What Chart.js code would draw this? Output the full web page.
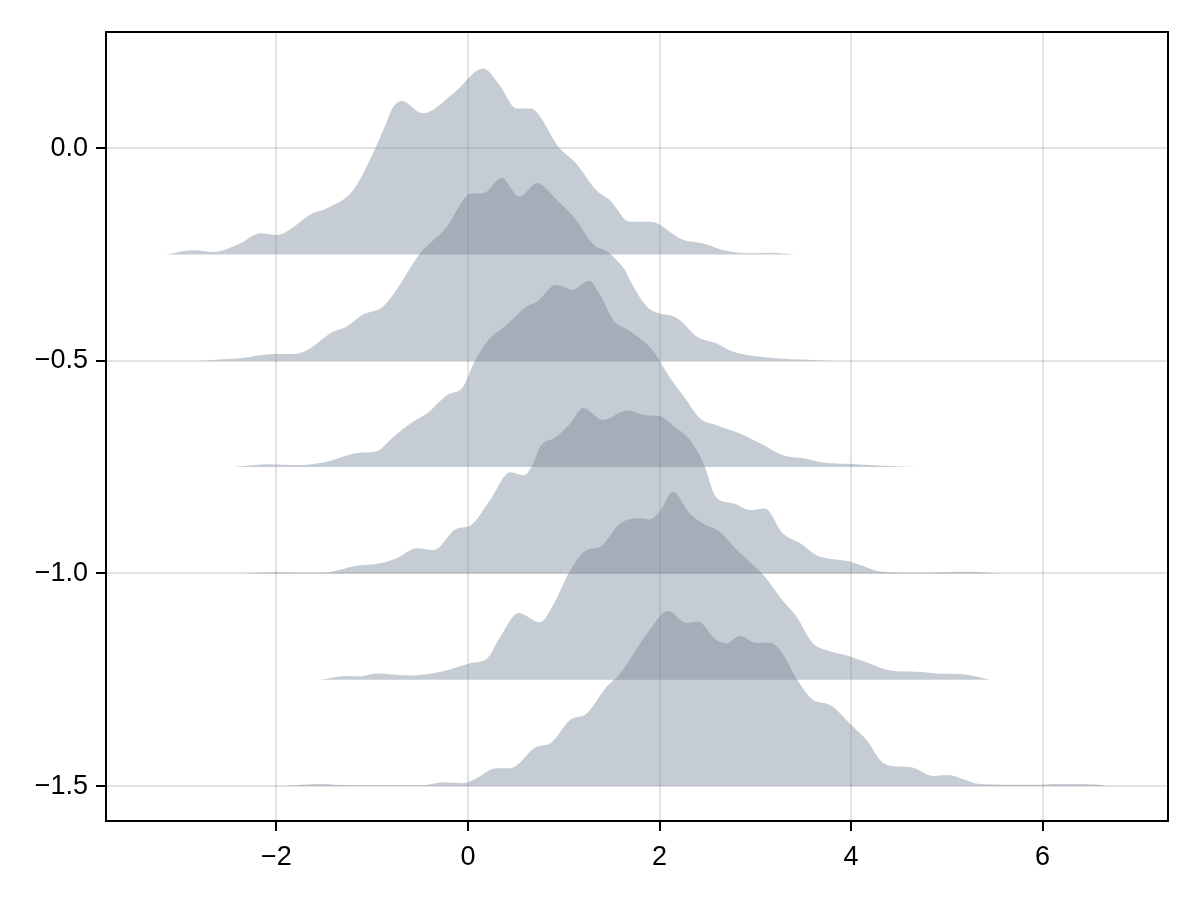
<!DOCTYPE html>
<html>
<head>
<meta charset="UTF-8">
<script src="https://cdn.jsdelivr.net/npm/chart.js"></script>
<style>
  body { margin: 0; background: #fff; }
  #wrap { width: 1200px; height: 900px; }
</style>
</head>
<body>
<div id="wrap"><canvas id="chart" width="1200" height="900"></canvas></div>
<script>
// ridge baselines (one per density curve, top to bottom)
const baselines = [-0.25, -0.5, -0.75, -1.0, -1.25, -1.5];

// x positions and density heights above the baseline
const ridge1X = [-3.15, -2.87, -2.66, -2.38, -2.17, -2.00, -1.62, -1.48, -1.20, -0.96, -0.87, -0.78, -0.69, -0.47, -0.15, 0.16, 0.33, 0.51, 0.65, 0.96, 1.13, 1.34, 1.48, 1.69, 1.90, 2.25, 2.46, 2.67, 2.95, 3.15, 3.43];
const ridge1H = [0, 0.010, 0.006, 0.026, 0.050, 0.046, 0.097, 0.108, 0.151, 0.253, 0.300, 0.347, 0.361, 0.332, 0.379, 0.437, 0.398, 0.343, 0.343, 0.249, 0.214, 0.151, 0.128, 0.077, 0.077, 0.034, 0.026, 0.010, 0.003, 0.004, 0];

const ridge2X = [-2.80, -2.59, -2.38, -2.03, -1.82, -1.68, -1.41, -1.27, -1.10, -0.89, -0.75, -0.50, -0.22, -0.05, 0.02, 0.16, 0.35, 0.54, 0.72, 0.92, 1.13, 1.30, 1.48, 1.55, 1.64, 1.69, 1.87, 2.00, 2.11, 2.21, 2.39, 2.59, 2.77, 3.12, 3.61, 3.81];
const ridge2H = [0, 0.003, 0.006, 0.016, 0.016, 0.025, 0.068, 0.080, 0.108, 0.127, 0.166, 0.253, 0.315, 0.378, 0.393, 0.394, 0.430, 0.386, 0.418, 0.380, 0.331, 0.276, 0.253, 0.237, 0.213, 0.190, 0.127, 0.111, 0.107, 0.096, 0.057, 0.041, 0.021, 0.008, 0.002, 0];

const ridge3X = [-2.45, -2.07, -1.79, -1.51, -1.13, -0.96, -0.78, -0.57, -0.43, -0.22, -0.05, 0.06, 0.20, 0.40, 0.61, 0.72, 0.92, 1.10, 1.26, 1.38, 1.52, 1.69, 1.94, 2.00, 2.14, 2.28, 2.42, 2.59, 2.84, 3.05, 3.29, 3.50, 3.71, 4.06, 4.34, 4.68];
const ridge3H = [0, 0.007, 0.005, 0.011, 0.034, 0.037, 0.071, 0.107, 0.126, 0.169, 0.189, 0.244, 0.295, 0.334, 0.377, 0.389, 0.428, 0.417, 0.438, 0.405, 0.345, 0.320, 0.272, 0.250, 0.200, 0.158, 0.115, 0.099, 0.079, 0.056, 0.028, 0.021, 0.011, 0.007, 0.003, 0];

const ridge4X = [-2.38, -2.03, -1.51, -1.16, -0.92, -0.74, -0.54, -0.36, -0.12, 0.02, 0.23, 0.44, 0.58, 0.68, 0.75, 0.92, 1.07, 1.20, 1.41, 1.66, 1.86, 2.00, 2.14, 2.32, 2.46, 2.59, 2.77, 2.95, 3.10, 3.29, 3.47, 3.64, 3.99, 4.33, 4.68, 5.24, 5.56];
const ridge4H = [0, 0.003, 0.002, 0.018, 0.024, 0.036, 0.059, 0.055, 0.105, 0.112, 0.172, 0.238, 0.231, 0.258, 0.297, 0.321, 0.353, 0.389, 0.361, 0.383, 0.372, 0.370, 0.348, 0.313, 0.259, 0.180, 0.165, 0.149, 0.153, 0.094, 0.071, 0.043, 0.028, 0.004, 0.002, 0.004, 0];

const ridge5X = [-1.55, -1.27, -1.13, -0.96, -0.61, -0.26, 0.02, 0.20, 0.33, 0.53, 0.75, 0.89, 1.07, 1.24, 1.38, 1.59, 1.80, 1.90, 2.00, 2.14, 2.32, 2.46, 2.63, 2.81, 2.95, 3.09, 3.29, 3.43, 3.60, 3.74, 3.99, 4.16, 4.41, 4.68, 4.89, 5.17, 5.45];
const ridge5H = [0, 0.009, 0.008, 0.015, 0.010, 0.020, 0.039, 0.050, 0.098, 0.157, 0.135, 0.176, 0.258, 0.305, 0.313, 0.368, 0.380, 0.377, 0.395, 0.442, 0.390, 0.367, 0.348, 0.305, 0.276, 0.245, 0.185, 0.149, 0.086, 0.070, 0.055, 0.041, 0.022, 0.019, 0.015, 0.013, 0];

const ridge6X = [-1.96, -1.51, -1.27, -0.47, -0.26, -0.05, 0.06, 0.30, 0.44, 0.72, 0.86, 1.07, 1.24, 1.45, 1.59, 1.73, 1.87, 2.09, 2.28, 2.40, 2.59, 2.70, 2.84, 3.01, 3.15, 3.26, 3.43, 3.60, 3.78, 4.02, 4.16, 4.34, 4.51, 4.62, 4.86, 5.00, 5.35, 5.90, 6.14, 6.60, 6.67];
const ridge6H = [0, 0.005, 0.002, 0.002, 0.009, 0.007, 0.015, 0.042, 0.042, 0.093, 0.101, 0.156, 0.171, 0.234, 0.265, 0.312, 0.359, 0.412, 0.384, 0.387, 0.344, 0.336, 0.353, 0.337, 0.337, 0.320, 0.253, 0.203, 0.191, 0.140, 0.109, 0.054, 0.046, 0.045, 0.024, 0.026, 0.005, 0.003, 0.005, 0.003, 0];

const xTicks = [-2, 0, 2, 4, 6];
const yTicks = [0, -0.5, -1.0, -1.5];

const ridges = [
  [ridge1X, ridge1H], [ridge2X, ridge2H], [ridge3X, ridge3H],
  [ridge4X, ridge4H], [ridge5X, ridge5H], [ridge6X, ridge6H]
];

const minus = (s) => s.replace("-", "\u2212");

// black box around the plot area, like the reference's spines
const frame = {
  id: "frame",
  afterDraw(chart) {
    const { ctx, chartArea: a } = chart;
    ctx.save();
    ctx.strokeStyle = "#000";
    ctx.lineWidth = 2;
    ctx.strokeRect(a.left, a.top, a.right - a.left, a.bottom - a.top);
    ctx.restore();
  }
};

const gridOpts = {
  color: "rgba(0,0,0,0.11)",
  lineWidth: 2,
  drawTicks: true,
  tickLength: 10,
  tickColor: "#000",
  tickWidth: 2
};
const tickFont = { family: "'Liberation Sans', Arial, sans-serif", size: 27 };

new Chart(document.getElementById("chart"), {
  type: "line",
  data: {
    datasets: ridges.map(([xs, hs], i) => ({
      data: xs.map((x, j) => ({ x: x, y: baselines[i] + hs[j] })),
      fill: { value: baselines[i] },
      backgroundColor: "rgba(112,128,144,0.4)",
      borderColor: "rgba(0,0,0,0)",
      borderWidth: 0,
      pointRadius: 0,
      cubicInterpolationMode: "monotone"
    }))
  },
  options: {
    responsive: false,
    animation: false,
    devicePixelRatio: 1,
    layout: { padding: { top: 32, right: 32, left: 0, bottom: 0 } },
    plugins: { legend: { display: false }, tooltip: { enabled: false } },
    scales: {
      x: {
        type: "linear",
        min: -3.78,
        max: 7.31,
        border: { display: false },
        grid: gridOpts,
        afterBuildTicks: (s) => { s.ticks = xTicks.map(v => ({ value: v })); },
        afterFit: (s) => { s.height = 79; },
        ticks: {
          color: "#000",
          font: tickFont,
          padding: 10,
          maxRotation: 0,
          callback: (v) => minus(String(v))
        }
      },
      y: {
        type: "linear",
        min: -1.582,
        max: 0.273,
        border: { display: false },
        grid: gridOpts,
        afterBuildTicks: (s) => { s.ticks = yTicks.map(v => ({ value: v })); },
        afterFit: (s) => { s.width = 106; },
        ticks: {
          color: "#000",
          font: tickFont,
          padding: 8,
          callback: (v) => minus(Number(v).toFixed(1))
        }
      }
    }
  },
  plugins: [frame]
});
</script>
</body>
</html>
